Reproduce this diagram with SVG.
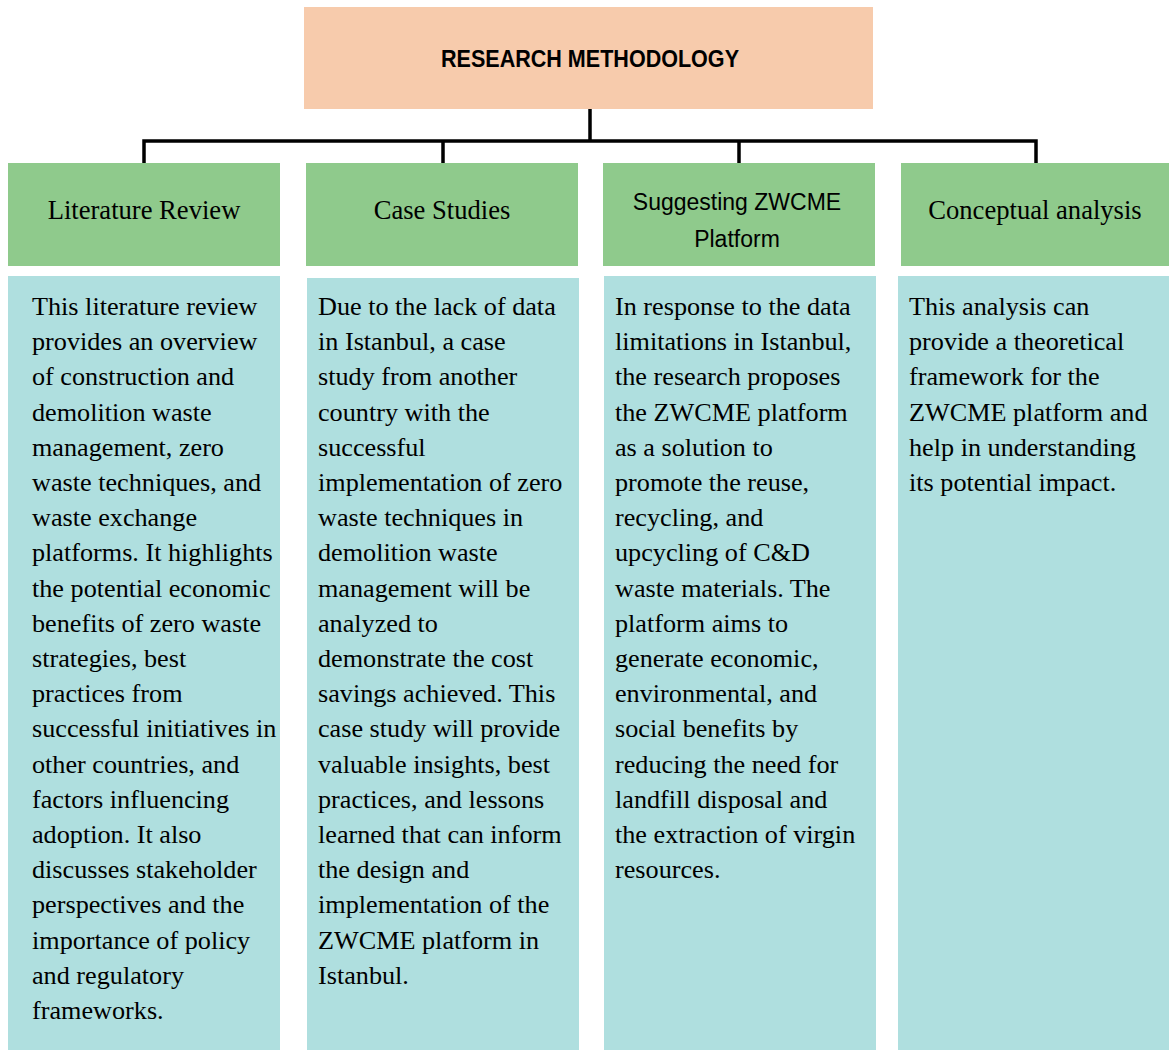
<svg xmlns="http://www.w3.org/2000/svg" width="1169" height="1050" viewBox="0 0 1169 1050">
<style>
.top{fill:#F7CBAC}
.hdr{fill:#8FCA8C}
.body{fill:#AFDFDF}
.conn{stroke:#000;stroke-width:3.5;fill:none}
.ht{font-family:"Liberation Serif","Times New Roman",serif;font-size:26.6px;fill:#000;text-anchor:middle}
.hs{font-family:"Liberation Sans",Arial,sans-serif;font-size:23px;fill:#000;text-anchor:middle}
.bt{font-family:"Liberation Serif","Times New Roman",serif;font-size:26.2px;fill:#000}
.title{font-family:"Liberation Sans",Arial,sans-serif;font-size:23px;font-weight:bold;fill:#000;text-anchor:middle}
</style>
<rect width="1169" height="1050" fill="#fff"/>
<g id="connectors">
<path class="conn" d="M590 109 V141 M144 165 V141 H1036 V165 M443 141 V165 M739 141 V165"/>
</g>
<g id="root">
<rect class="top" x="304" y="7" width="569" height="102"/>
<text class="title" x="590" y="67" textLength="298" lengthAdjust="spacingAndGlyphs">RESEARCH METHODOLOGY</text>
</g>
<g id="lit-header">
<rect class="hdr" x="8" y="163" width="272" height="103"/>
<text class="ht" x="144" y="219">Literature Review</text>
</g>
<g id="case-header">
<rect class="hdr" x="306" y="163" width="272" height="103"/>
<text class="ht" x="442" y="219">Case Studies</text>
</g>
<g id="zwcme-header">
<rect class="hdr" x="603" y="163" width="272" height="103"/>
<text class="hs" x="737" y="210">Suggesting ZWCME</text>
<text class="hs" x="737" y="247">Platform</text>
</g>
<g id="concept-header">
<rect class="hdr" x="901" y="163" width="268" height="103"/>
<text class="ht" x="1035" y="219">Conceptual analysis</text>
</g>
<g id="lit-body">
<rect class="body" x="8" y="276" width="272" height="774"/>
<text class="bt" y="315">
<tspan x="32">This literature review</tspan>
<tspan x="32" dy="35.2">provides an overview</tspan>
<tspan x="32" dy="35.2">of construction and</tspan>
<tspan x="32" dy="35.2">demolition waste</tspan>
<tspan x="32" dy="35.2">management, zero</tspan>
<tspan x="32" dy="35.2">waste techniques, and</tspan>
<tspan x="32" dy="35.2">waste exchange</tspan>
<tspan x="32" dy="35.2">platforms. It highlights</tspan>
<tspan x="32" dy="35.2">the potential economic</tspan>
<tspan x="32" dy="35.2">benefits of zero waste</tspan>
<tspan x="32" dy="35.2">strategies, best</tspan>
<tspan x="32" dy="35.2">practices from</tspan>
<tspan x="32" dy="35.2">successful initiatives in</tspan>
<tspan x="32" dy="35.2">other countries, and</tspan>
<tspan x="32" dy="35.2">factors influencing</tspan>
<tspan x="32" dy="35.2">adoption. It also</tspan>
<tspan x="32" dy="35.2">discusses stakeholder</tspan>
<tspan x="32" dy="35.2">perspectives and the</tspan>
<tspan x="32" dy="35.2">importance of policy</tspan>
<tspan x="32" dy="35.2">and regulatory</tspan>
<tspan x="32" dy="35.2">frameworks.</tspan>
</text>
</g>
<g id="case-body">
<rect class="body" x="307" y="278" width="272" height="772"/>
<text class="bt" y="315">
<tspan x="318">Due to the lack of data</tspan>
<tspan x="318" dy="35.2">in Istanbul, a case</tspan>
<tspan x="318" dy="35.2">study from another</tspan>
<tspan x="318" dy="35.2">country with the</tspan>
<tspan x="318" dy="35.2">successful</tspan>
<tspan x="318" dy="35.2">implementation of zero</tspan>
<tspan x="318" dy="35.2">waste techniques in</tspan>
<tspan x="318" dy="35.2">demolition waste</tspan>
<tspan x="318" dy="35.2">management will be</tspan>
<tspan x="318" dy="35.2">analyzed to</tspan>
<tspan x="318" dy="35.2">demonstrate the cost</tspan>
<tspan x="318" dy="35.2">savings achieved. This</tspan>
<tspan x="318" dy="35.2">case study will provide</tspan>
<tspan x="318" dy="35.2">valuable insights, best</tspan>
<tspan x="318" dy="35.2">practices, and lessons</tspan>
<tspan x="318" dy="35.2">learned that can inform</tspan>
<tspan x="318" dy="35.2">the design and</tspan>
<tspan x="318" dy="35.2">implementation of the</tspan>
<tspan x="318" dy="35.2">ZWCME platform in</tspan>
<tspan x="318" dy="35.2">Istanbul.</tspan>
</text>
</g>
<g id="zwcme-body">
<rect class="body" x="604" y="276" width="272" height="774"/>
<text class="bt" y="315">
<tspan x="615">In response to the data</tspan>
<tspan x="615" dy="35.2">limitations in Istanbul,</tspan>
<tspan x="615" dy="35.2">the research proposes</tspan>
<tspan x="615" dy="35.2">the ZWCME platform</tspan>
<tspan x="615" dy="35.2">as a solution to</tspan>
<tspan x="615" dy="35.2">promote the reuse,</tspan>
<tspan x="615" dy="35.2">recycling, and</tspan>
<tspan x="615" dy="35.2">upcycling of C&amp;D</tspan>
<tspan x="615" dy="35.2">waste materials. The</tspan>
<tspan x="615" dy="35.2">platform aims to</tspan>
<tspan x="615" dy="35.2">generate economic,</tspan>
<tspan x="615" dy="35.2">environmental, and</tspan>
<tspan x="615" dy="35.2">social benefits by</tspan>
<tspan x="615" dy="35.2">reducing the need for</tspan>
<tspan x="615" dy="35.2">landfill disposal and</tspan>
<tspan x="615" dy="35.2">the extraction of virgin</tspan>
<tspan x="615" dy="35.2">resources.</tspan>
</text>
</g>
<g id="concept-body">
<rect class="body" x="898" y="276" width="271" height="774"/>
<text class="bt" y="315">
<tspan x="909">This analysis can</tspan>
<tspan x="909" dy="35.2">provide a theoretical</tspan>
<tspan x="909" dy="35.2">framework for the</tspan>
<tspan x="909" dy="35.2">ZWCME platform and</tspan>
<tspan x="909" dy="35.2">help in understanding</tspan>
<tspan x="909" dy="35.2">its potential impact.</tspan>
</text>
</g>
</svg>
